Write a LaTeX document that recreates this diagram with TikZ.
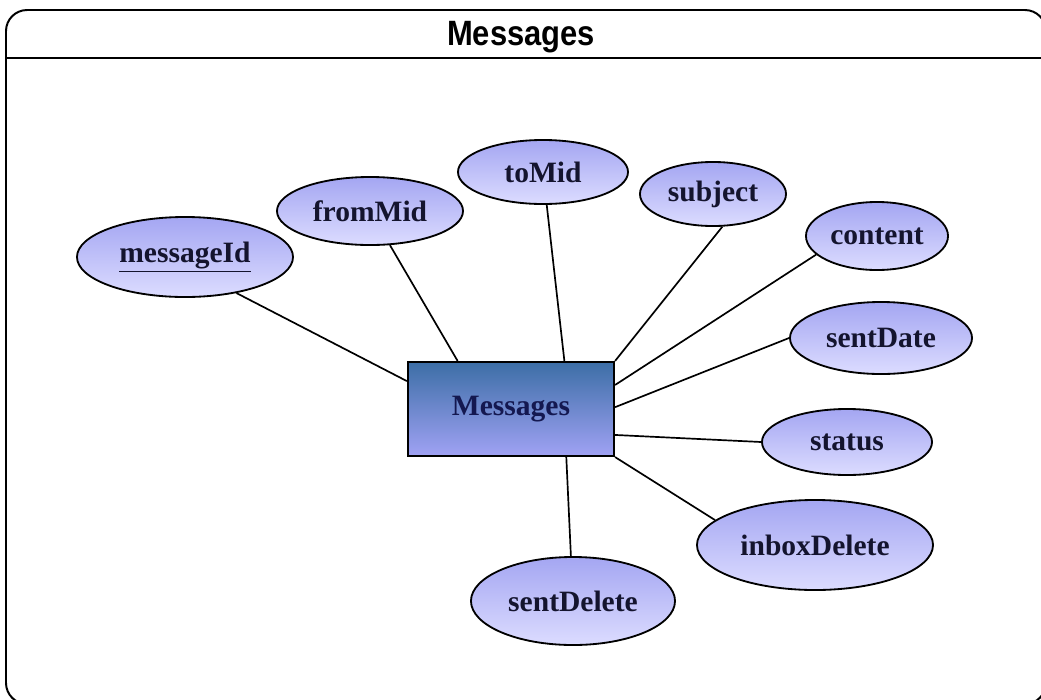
\documentclass[tikz,border=0pt]{standalone}
\usepackage{fontspec}
\usetikzlibrary{shapes.geometric}
\setmainfont{Liberation Serif}
\newfontfamily\titlefont[FakeStretch=0.88]{Liberation Sans}
\definecolor{attrtop}{HTML}{A4A6F2}
\definecolor{attrbot}{HTML}{DCDCFF}
\definecolor{enttop}{HTML}{3C6EA6}
\definecolor{entbot}{HTML}{A0A2F4}
\definecolor{enttext}{HTML}{141850}
\definecolor{attrtext}{HTML}{14142E}
\tikzset{
  attr/.style={ellipse, draw=black, line width=1.3pt, inner sep=0pt,
    top color=attrtop, bottom color=attrbot, text=attrtext,
    font=\fontsize{21}{25}\selectfont\bfseries},
  entity/.style={rectangle, draw=black, line width=1.5pt, inner sep=0pt,
    minimum width=5.15cm, minimum height=2.35cm,
    top color=enttop, bottom color=entbot, text=enttext,
    font=\fontsize{21}{25}\selectfont\bfseries},
  link/.style={line width=1.2pt}
}
\begin{document}
\begin{tikzpicture}[x=0.025cm,y=-0.025cm]
  \useasboundingbox (0,0) rectangle (1041,699);
  \clip (0,0) rectangle (1041,699);

  % Rahmen
  \draw[line width=1.4pt, rounded corners=15] (6,10) rectangle (1046,704);
  \draw[line width=1.4pt] (6,58) -- (1046,58);
  \node[font=\titlefont\fontsize{25}{29}\selectfont\bfseries] (title) at (521,37) {Messages};

  % Entitaet
  \node[entity] (msg) at (511,409) {Messages};

  % Attribute
  \node[attr, minimum width=5.4cm, minimum height=2.0cm] (messageId) at (185,257) {\underline{messageId}};
  \node[attr, minimum width=4.65cm, minimum height=1.7cm] (fromMid) at (370,211) {fromMid};
  \node[attr, minimum width=4.25cm, minimum height=1.6cm] (toMid) at (543,172) {toMid};
  \node[attr, minimum width=3.65cm, minimum height=1.6cm] (subject) at (713,194) {subject};
  \node[attr, minimum width=3.55cm, minimum height=1.7cm] (content) at (877,236) {content};
  \node[attr, minimum width=4.55cm, minimum height=1.8cm] (sentDate) at (881,338) {sentDate};
  \node[attr, minimum width=4.25cm, minimum height=1.65cm] (status) at (847,442) {status};
  \node[attr, minimum width=5.9cm, minimum height=2.25cm] (inboxDelete) at (815,545) {inboxDelete};
  \node[attr, minimum width=5.1cm, minimum height=2.2cm] (sentDelete) at (573,601) {sentDelete};

  % Verbindungen
  \draw[link] (messageId.-35) -- (msg.165);
  \draw[link] (fromMid) -- (msg.138);
  \draw[link] (toMid) -- (msg.42);
  \draw[link] (subject.-74) -- (msg.north east);
  \draw[link] (content.-163) -- (msg.13);
  \draw[link] (sentDate.180) -- (msg.1);
  \draw[link] (status.180) -- (msg.-14);
  \draw[link] (inboxDelete.166) -- (msg.south east);
  \draw[link] (sentDelete) -- (msg.-41);
\end{tikzpicture}
\end{document}
